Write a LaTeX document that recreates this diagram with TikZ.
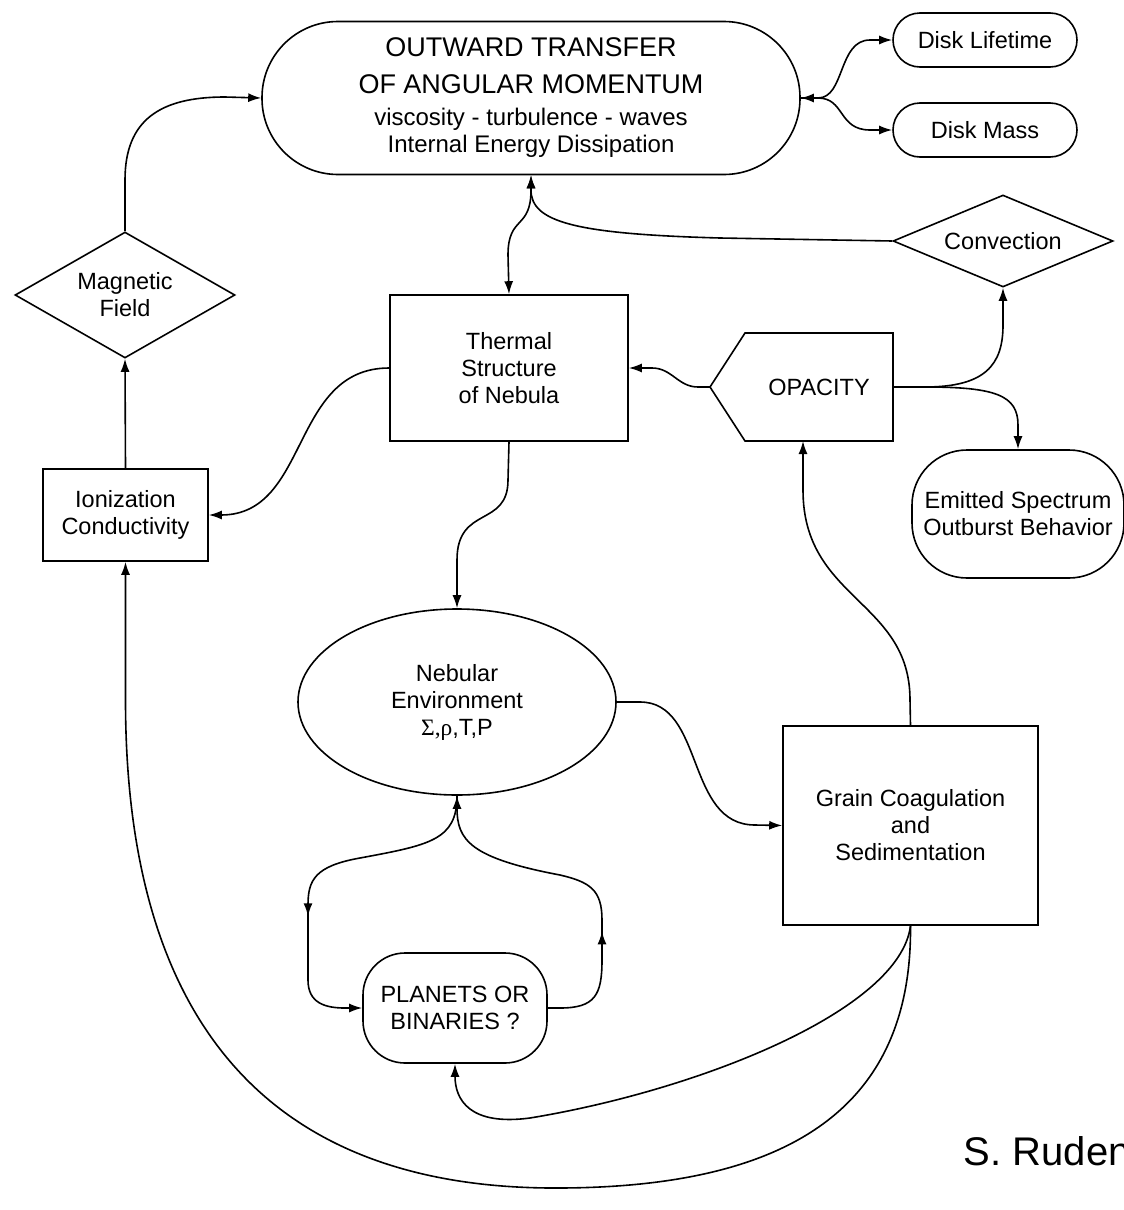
\documentclass[tikz,border=0pt]{standalone}
\usepackage{fontspec}
\setmainfont{Liberation Sans}
\newfontfamily\symfont{Liberation Serif}
\usetikzlibrary{arrows.meta,shapes.geometric,decorations.markings}
\tikzset{
  lbl/.style={font=\fontsize{23.5}{27}\selectfont, align=center, inner sep=0pt, text=black},
  boxnode/.style={lbl, draw, rectangle},
  roundnode/.style={lbl, draw, rectangle, rounded corners=#1},
  dia/.style={lbl, draw, diamond},
  conn/.style={->},
  conntwo/.style={<->},
  midarr/.style={postaction={decorate}, decoration={markings, mark=at position #1 with {\arrow{>}}}},
}
\begin{document}
\begin{tikzpicture}[x=1pt,y=-1pt,line width=1.6pt,>={Latex[length=13pt,width=9pt]}]
\useasboundingbox (0,0) rectangle (1124,1210);
\clip (0,0) rectangle (1124,1210);
\fill[white] (0,0) rectangle (1124,1210);

% nodes
\node[roundnode=76pt, minimum width=538pt, minimum height=153pt] (top) at (531,98)
  {\fontsize{27}{33}\selectfont OUTWARD TRANSFER\\[10pt]
   \fontsize{27}{33}\selectfont OF ANGULAR MOMENTUM\\[5pt]
   \fontsize{24}{27}\selectfont viscosity - turbulence - waves\\
   \fontsize{24}{27}\selectfont Internal Energy Dissipation};
\node[roundnode=27pt, minimum width=184pt, minimum height=54pt] (dl) at (985,40) {Disk Lifetime};
\node[roundnode=27pt, minimum width=184pt, minimum height=54pt] (dm) at (985,130) {Disk Mass};
\node[dia, aspect=2.4, minimum width=220pt, minimum height=92pt] (conv) at (1003,241) {Convection};
\node[dia, aspect=1.75, minimum width=220pt, minimum height=126pt] (mag) at (125,295) {Magnetic\\Field};
\node[boxnode, minimum width=238pt, minimum height=146pt] (therm) at (509,368) {Thermal\\Structure\\of Nebula};
\draw (745,333) -- (893,333) -- (893,441) -- (745,441) -- (710,387) -- cycle;
\node[lbl] (op) at (819,387) {OPACITY};
\coordinate (opW) at (710,387);
\coordinate (opE) at (893,387);
\coordinate (opS) at (803,441);
\node[roundnode=55pt, minimum width=212pt, minimum height=128pt] (em) at (1018,514) {Emitted Spectrum\\Outburst Behavior};
\node[boxnode, minimum width=165pt, minimum height=92pt] (ion) at (125.5,515) {Ionization\\Conductivity};
\node[lbl, draw, ellipse, minimum width=318pt, minimum height=186pt] (neb) at (457,702) {Nebular\\Environment\\{\symfont Σ,ρ},T,P};
\node[boxnode, minimum width=255pt, minimum height=199pt] (grain) at (910.5,825.5) {Grain Coagulation\\and\\Sedimentation};
\node[roundnode=42pt, minimum width=184pt, minimum height=110pt] (pl) at (455,1008) {PLANETS OR\\BINARIES ?};
\node[anchor=base west, inner sep=0pt, font=\fontsize{40}{48}\selectfont] (sig) at (963,1165) {S. Ruden};

% connectors
\draw[conn] (mag.north) -- (125,180) .. controls (125,120) and (160,97) .. (225,97) -- (top.west);
\draw[conn] (ion.north) -- (mag.south);
\draw[conn] (therm.west) .. controls (290,368) and (310,515) .. (ion.east);
\draw[conntwo] (top.south) -- (531,190) .. controls (531,230) and (508,215) .. (508,255) -- (therm.north);
\draw[conn] (conv.west) -- (720,238) .. controls (575,234) and (531,222) .. (531,190) -- (top.south);
\draw[conntwo] (top.east) -- (818,98) .. controls (845,98) and (838,40) .. (870,40) -- (dl.west);
\draw[conn] (top.east) -- (818,98) .. controls (845,98) and (838,130) .. (870,130) -- (dm.west);
\draw[conn] (opW) -- (698,387) .. controls (678,387) and (672,368) .. (652,368) -- (therm.east);
\draw[conn] (opE) -- (925,387) .. controls (985,387) and (1003,365) .. (1003,325) -- (conv.south);
\draw[conn] (opE) -- (925,387) .. controls (995,387) and (1018,395) .. (1018,425) -- (em.north);
\draw[conn] (grain.north) -- (910,700) .. controls (910,600) and (803,600) .. (803,490) -- (opS);
\draw[conn] (therm.south) -- (508,480) .. controls (508,528) and (457,505) .. (457,560) -- (neb.north);
\draw[conn] (neb.east) -- (640,702) .. controls (705,702) and (685,825) .. (755,825) -- (grain.west);
\draw[conn, midarr=0.62] (neb.south) .. controls (457,840) and (430,845) .. (360,858) .. controls (315,866) and (308,880) .. (308,905) -- (308,980) .. controls (308,1003) and (325,1008) .. (345,1008) -- (pl.west);
\draw[conn, midarr=0.34] (pl.east) -- (560,1008) .. controls (595,1008) and (602,995) .. (602,960) -- (602,920) .. controls (602,890) and (590,882) .. (560,875) .. controls (470,858) and (457,840) .. (neb.south);
\draw[conn] (grain.south) .. controls (900,1010) and (700,1090) .. (530,1118) .. controls (470,1126) and (455,1100) .. (pl.south);
\draw[conn] (grain.south) .. controls (912,1100) and (800,1187) .. (560,1188) .. controls (250,1190) and (125.5,1000) .. (125.5,700) -- (ion.south);
\end{tikzpicture}
\end{document}
